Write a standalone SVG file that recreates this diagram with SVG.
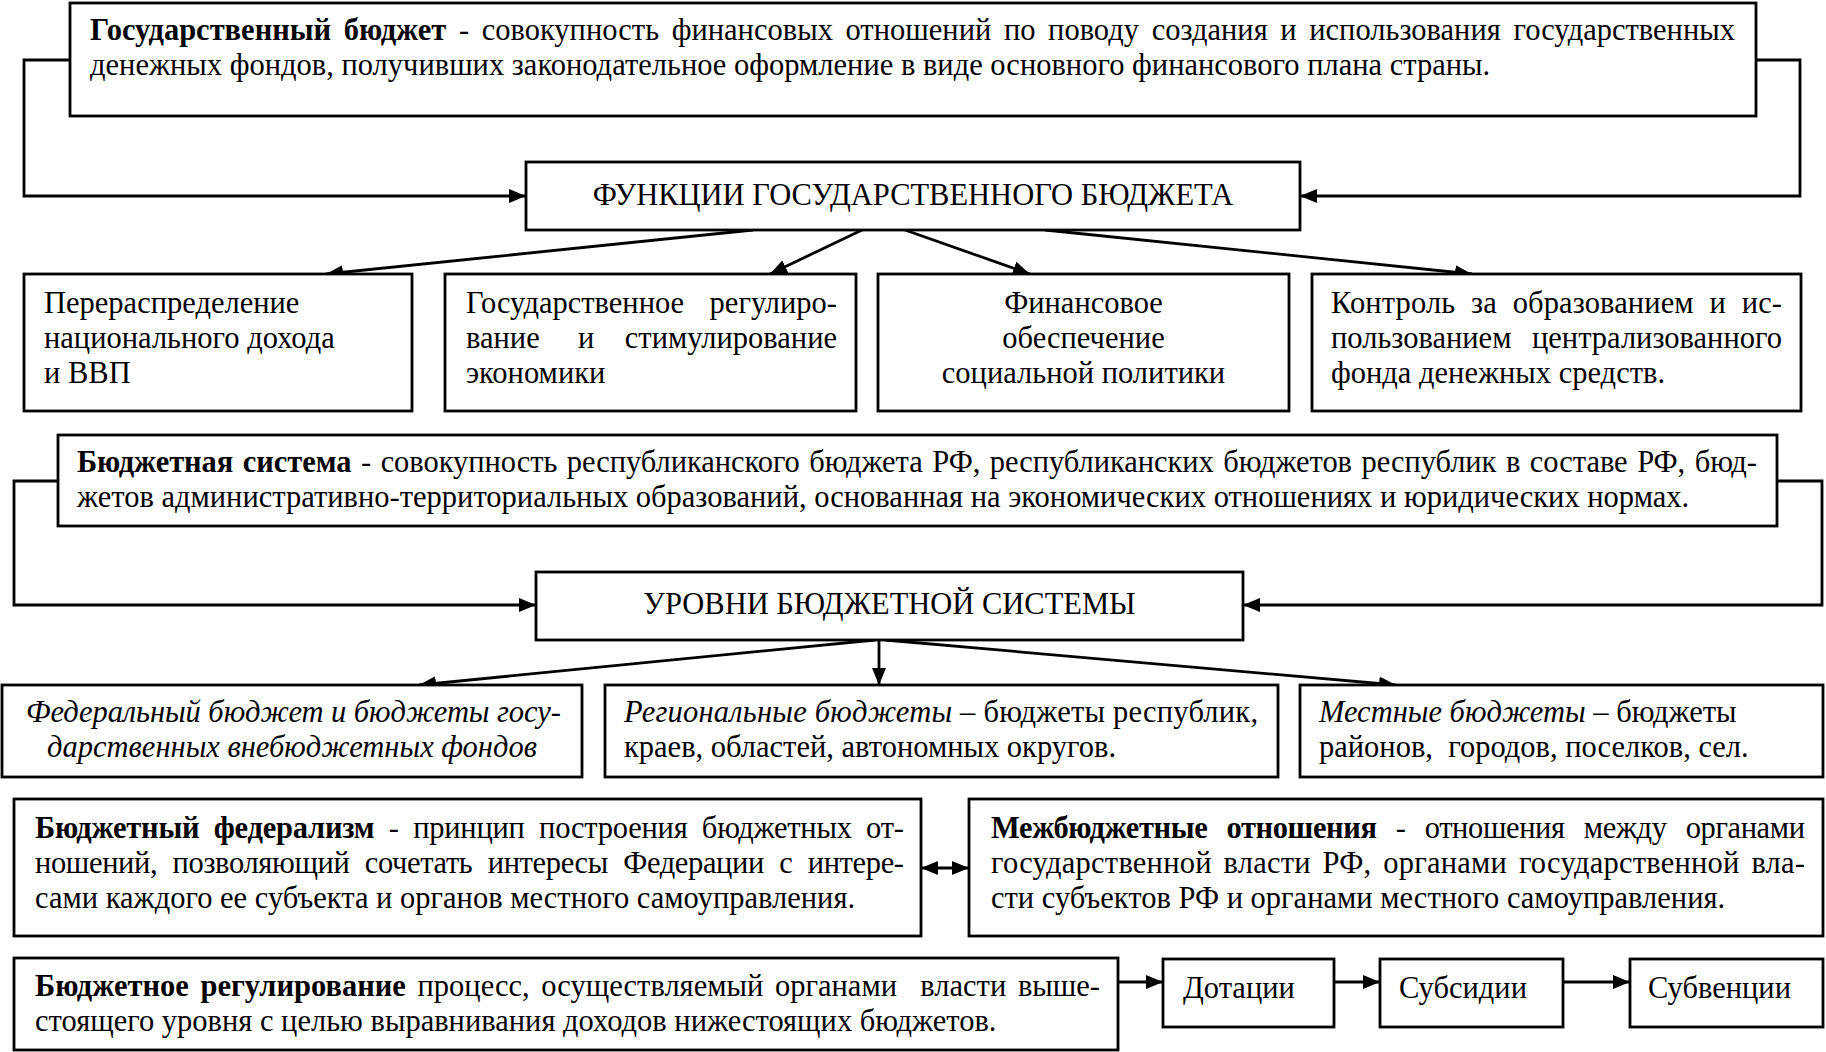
<svg xmlns="http://www.w3.org/2000/svg" width="1826" height="1052" viewBox="0 0 1826 1052">
<defs>
<style>
.box{fill:#fff;stroke:#000;stroke-width:2.8}
.conn{fill:none;stroke:#000;stroke-width:2.8}
text{font-family:"Liberation Serif","Times New Roman",serif;font-size:30.5px;fill:#000}
.b{font-weight:bold}
.i{font-style:italic}
.c{text-anchor:middle}
.e{text-anchor:end}
</style>
<marker id="ah" markerUnits="userSpaceOnUse" markerWidth="17" markerHeight="14" refX="17" refY="7" orient="auto-start-reverse">
<path d="M0,0 L17,7 L0,14 z" fill="#000"/>
</marker>
</defs>
<rect width="1826" height="1052" fill="#fff"/>

<g id="connectors">
<path class="conn" d="M70,60 H24 V196 H526" marker-end="url(#ah)"/>
<path class="conn" d="M1756,60 H1800 V196 H1300" marker-end="url(#ah)"/>
<path class="conn" d="M753,230 L326,274" marker-end="url(#ah)"/>
<path class="conn" d="M862,230 L770,274" marker-end="url(#ah)"/>
<path class="conn" d="M905,230 L1030,274" marker-end="url(#ah)"/>
<path class="conn" d="M1045,230 L1472,274" marker-end="url(#ah)"/>
<path class="conn" d="M58,481 H14 V605 H536" marker-end="url(#ah)"/>
<path class="conn" d="M1777,481 H1822 V605 H1243" marker-end="url(#ah)"/>
<path class="conn" d="M875,640 L419,685" marker-end="url(#ah)"/>
<path class="conn" d="M879,640 L879,685" marker-end="url(#ah)"/>
<path class="conn" d="M885,640 L1396,685" marker-end="url(#ah)"/>
<path class="conn" d="M921,868 L969,868" marker-start="url(#ah)" marker-end="url(#ah)"/>
<path class="conn" d="M1118,982 L1163,982" marker-end="url(#ah)"/>
<path class="conn" d="M1334,982 L1380,982" marker-end="url(#ah)"/>
<path class="conn" d="M1563,982 L1630,982" marker-end="url(#ah)"/>
</g>

<g id="gos-budget">
<rect class="box" x="70" y="3" width="1686" height="113"/>
<text x="90" y="40" textLength="1645" lengthAdjust="spacing" word-spacing="5"><tspan class="b">Государственный бюджет</tspan> - совокупность финансовых отношений по поводу создания и использования государственных</text>
<text x="90" y="75">денежных фондов, получивших законодательное оформление в виде основного финансового плана страны.</text>
</g>

<g id="functions">
<rect class="box" x="526" y="162" width="774" height="68"/>
<text class="c" x="913" y="205">ФУНКЦИИ ГОСУДАРСТВЕННОГО БЮДЖЕТА</text>
</g>

<g id="f-redistribution">
<rect class="box" x="24" y="274" width="388" height="137"/>
<text x="44" y="313">Перераспределение</text>
<text x="44" y="348">национального дохода</text>
<text x="44" y="383">и ВВП</text>
</g>

<g id="f-regulation">
<rect class="box" x="445" y="274" width="411" height="137"/>
<text x="466" y="313">Государственное</text>
<text class="e" x="837" y="313">регулиро-</text>
<text x="466" y="348">вание</text>
<text x="578" y="348">и</text>
<text class="e" x="837" y="348">стимулирование</text>
<text x="466" y="383">экономики</text>
</g>

<g id="f-social">
<rect class="box" x="878" y="274" width="411" height="137"/>
<text class="c" x="1083.5" y="313">Финансовое</text>
<text class="c" x="1083.5" y="348">обеспечение</text>
<text class="c" x="1083.5" y="383">социальной политики</text>
</g>

<g id="f-control">
<rect class="box" x="1312" y="274" width="489" height="137"/>
<text x="1331" y="313" textLength="451" lengthAdjust="spacing" word-spacing="8">Контроль за образованием и ис-</text>
<text x="1331" y="348">пользованием</text>
<text class="e" x="1782" y="348">централизованного</text>
<text x="1331" y="383">фонда денежных средств.</text>
</g>

<g id="budget-system">
<rect class="box" x="58" y="435" width="1719" height="91"/>
<text x="77" y="472" textLength="1680" lengthAdjust="spacing" word-spacing="2"><tspan class="b">Бюджетная система</tspan> - совокупность республиканского бюджета РФ, республиканских бюджетов республик в составе РФ, бюд-</text>
<text x="77" y="507">жетов административно-территориальных образований, основанная на экономических отношениях и юридических нормах.</text>
</g>

<g id="levels">
<rect class="box" x="536" y="572" width="707" height="68"/>
<text class="c" x="889.5" y="614">УРОВНИ БЮДЖЕТНОЙ СИСТЕМЫ</text>
</g>

<g id="l-federal">
<rect class="box" x="2" y="685" width="580" height="92"/>
<text class="i" x="26" y="722" textLength="535" lengthAdjust="spacing">Федеральный бюджет и бюджеты госу-</text>
<text class="i c" x="292" y="757">дарственных внебюджетных фондов</text>
</g>

<g id="l-regional">
<rect class="box" x="605" y="685" width="673" height="92"/>
<text x="624" y="722" textLength="634" lengthAdjust="spacing"><tspan class="i">Региональные бюджеты</tspan> – бюджеты республик,</text>
<text x="624" y="757">краев, областей, автономных округов.</text>
</g>

<g id="l-local">
<rect class="box" x="1300" y="685" width="523" height="92"/>
<text x="1319" y="722"><tspan class="i">Местные бюджеты</tspan> – бюджеты</text>
<text x="1319" y="757" xml:space="preserve">районов,  городов, поселков, сел.</text>
</g>

<g id="fiscal-federalism">
<rect class="box" x="14" y="799" width="907" height="137"/>
<text x="35" y="838" textLength="869" lengthAdjust="spacing" word-spacing="7"><tspan class="b">Бюджетный федерализм</tspan> - принцип построения бюджетных от-</text>
<text x="35" y="873" textLength="869" lengthAdjust="spacing" word-spacing="8">ношений, позволяющий сочетать интересы Федерации с интере-</text>
<text x="35" y="908">сами каждого ее субъекта и органов местного самоуправления.</text>
</g>

<g id="interbudget">
<rect class="box" x="969" y="799" width="854" height="137"/>
<text x="991" y="838" textLength="814" lengthAdjust="spacing" word-spacing="12"><tspan class="b">Межбюджетные отношения</tspan> - отношения между органами</text>
<text x="991" y="873" textLength="814" lengthAdjust="spacing" word-spacing="4">государственной власти РФ, органами государственной вла-</text>
<text x="991" y="908">сти субъектов РФ и органами местного самоуправления.</text>
</g>

<g id="regulation">
<rect class="box" x="14" y="958" width="1104" height="92"/>
<text x="35" y="996" textLength="1065" lengthAdjust="spacing" word-spacing="4" xml:space="preserve"><tspan class="b">Бюджетное регулирование</tspan> процесс, осуществляемый органами  власти выше-</text>
<text x="35" y="1031">стоящего уровня с целью выравнивания доходов нижестоящих бюджетов.</text>
</g>

<g id="subsidies-dot">
<rect class="box" x="1163" y="959" width="171" height="68"/>
<text x="1183" y="998">Дотации</text>
</g>

<g id="subsidies-sub">
<rect class="box" x="1380" y="959" width="183" height="68"/>
<text x="1399" y="998">Субсидии</text>
</g>

<g id="subsidies-sbv">
<rect class="box" x="1630" y="959" width="193" height="68"/>
<text x="1648" y="998">Субвенции</text>
</g>
</svg>
